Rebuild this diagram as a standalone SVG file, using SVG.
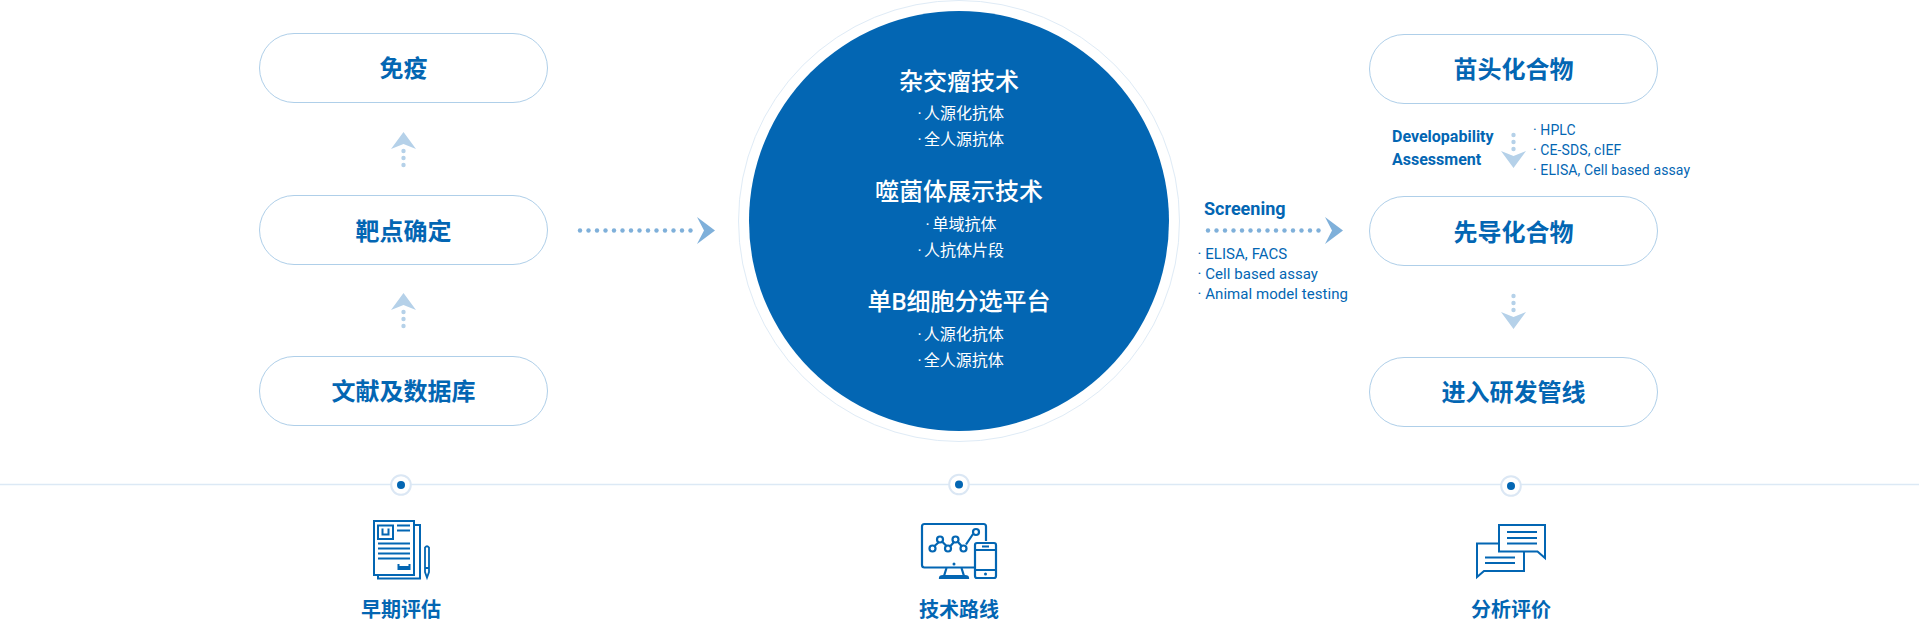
<svg xmlns="http://www.w3.org/2000/svg" width="1919" height="620" viewBox="0 0 1919 620">
<style>
text{font-family:Roboto,"Noto Sans CJK SC",sans-serif;fill:#0366b3}
.pill{fill:#fff;stroke:#afcfe9;stroke-width:1}
.pt{font-size:24px;font-weight:700;text-anchor:middle}
.ct{font-size:24px;font-weight:500;text-anchor:middle;fill:#fff}
.cs{font-size:16px;fill:#fff;font-weight:400}
.b{font-size:18px;font-weight:700}
.b2{font-size:16px;font-weight:700}
.l{font-size:15px;letter-spacing:.05px}
.r{font-size:14px;letter-spacing:.1px}
.lb{font-size:20px;font-weight:700;text-anchor:middle}
.d1{fill:#b5d1e9}
.d2{fill:#7fb0da}
.ic{fill:none;stroke:#0366b3;stroke-width:2}
.ring{fill:#fff;stroke:#dbe7f4;stroke-width:2}
.dot{fill:#0366b3}
</style>
<defs>
<g id="up"><path class="d1" d="M0 0L12.500 17L0 12L-12.500 17Z"/><circle class="d1" cx="0" cy="19" r="2.200"/><circle class="d1" cx="0" cy="26" r="2.200"/><circle class="d1" cx="0" cy="33" r="2.200"/></g>
<g id="down"><path class="d1" d="M0 0L12.500 -17L0 -12L-12.500 -17Z"/><circle class="d1" cx="0" cy="-19" r="2.200"/><circle class="d1" cx="0" cy="-26" r="2.200"/><circle class="d1" cx="0" cy="-33" r="2.200"/></g>
<g id="right"><path class="d2" d="M18 0L0 -13.500L7 0L0 13.500Z"/>
<g class="d2"><circle cx="-6.500" r="2.200"/><circle cx="-15" r="2.200"/><circle cx="-23.500" r="2.200"/><circle cx="-32" r="2.200"/><circle cx="-40.500" r="2.200"/><circle cx="-49" r="2.200"/><circle cx="-57.500" r="2.200"/><circle cx="-66" r="2.200"/><circle cx="-74.500" r="2.200"/><circle cx="-83" r="2.200"/><circle cx="-91.500" r="2.200"/><circle cx="-100" r="2.200"/><circle cx="-108.500" r="2.200"/><circle cx="-117" r="2.200"/></g></g>
</defs>

<g id="connectors">
<path d="M0 484.500H1919" stroke="#dce9f5" stroke-width="1.500" fill="none"/>
<use href="#up" x="403.500" y="132"/>
<use href="#up" x="403.500" y="293"/>
<use href="#right" x="697" y="230.500"/>
<use href="#right" x="1325" y="230.500"/>
<use href="#down" x="1513.500" y="168"/>
<use href="#down" x="1513.500" y="329"/>
</g>

<g id="n-mianyi"><rect class="pill" x="259.500" y="33.500" width="288" height="69" rx="34.500"/><text class="pt" x="403.500" y="77">免疫</text></g>
<g id="n-baidian"><rect class="pill" x="259.500" y="195.500" width="288" height="69" rx="34.500"/><text class="pt" x="403.500" y="240">靶点确定</text></g>
<g id="n-wenxian"><rect class="pill" x="259.500" y="356.500" width="288" height="69" rx="34.500"/><text class="pt" x="403.500" y="400">文献及数据库</text></g>

<g id="n-tech">
<circle cx="959" cy="221" r="220.500" fill="#fff" stroke="#dfebf6" stroke-width="1"/>
<circle cx="959" cy="221" r="210" fill="#0366b3"/>
<text class="ct" x="959" y="90">杂交瘤技术</text>
<text class="cs" y="119"><tspan x="917.500">·</tspan><tspan x="924">人源化抗体</tspan></text>
<text class="cs" y="145"><tspan x="917.500">·</tspan><tspan x="924">全人源抗体</tspan></text>
<text class="ct" x="959" y="200">噬菌体展示技术</text>
<text class="cs" y="230"><tspan x="925.500">·</tspan><tspan x="932.500">单域抗体</tspan></text>
<text class="cs" y="256"><tspan x="917.500">·</tspan><tspan x="924">人抗体片段</tspan></text>
<text class="ct" x="959" y="310">单B细胞分选平台</text>
<text class="cs" y="339.500"><tspan x="917.500">·</tspan><tspan x="923.700">人源化抗体</tspan></text>
<text class="cs" y="366"><tspan x="917.500">·</tspan><tspan x="923.700">全人源抗体</tspan></text>
</g>

<g id="n-miaotou"><rect class="pill" x="1369.500" y="34.500" width="288" height="69" rx="34.500"/><text class="pt" x="1513.500" y="78">苗头化合物</text></g>
<g id="n-xiandao"><rect class="pill" x="1369.500" y="196.500" width="288" height="69" rx="34.500"/><text class="pt" x="1513.500" y="241">先导化合物</text></g>
<g id="n-jinru"><rect class="pill" x="1369.500" y="357.500" width="288" height="69" rx="34.500"/><text class="pt" x="1513.500" y="401">进入研发管线</text></g>

<g id="labels">
<text class="b" x="1204" y="215">Screening</text>
<text class="l" x="1197.500" y="259">· ELISA, FACS</text>
<text class="l" x="1197.500" y="279">· Cell based assay</text>
<text class="l" x="1197.500" y="299">· Animal model testing</text>
<text class="b2" x="1392" y="142">Developability</text>
<text class="b2" x="1392" y="165">Assessment</text>
<text class="r" x="1533" y="134.500">· HPLC</text>
<text class="r" x="1533" y="154.500">· CE-SDS, cIEF</text>
<text class="r" x="1533" y="174.500">· ELISA, Cell based assay</text>
</g>

<g id="n-zaoqi">
<circle class="ring" cx="401" cy="485" r="9.800"/><circle class="dot" cx="401" cy="485" r="4"/>
<g class="ic">
<path d="M414.500 525H420V578.500H378V575"/>
<rect x="374" y="521" width="40" height="54"/>
<rect x="378" y="525.500" width="15" height="13.500"/>
<path d="M382.500 528.500V534.500H388.500V528.500M397 525.500H410M397 530.500H410M378 543.500H410M378 548.500H410M378 553.500H410M378 558.500H410M398.500 564V569H409.500V564M398.500 567H409.500"/>
<path d="M425 547.500Q427 545 429 547.500V572L427 577.500L425 572ZM425 568H429" stroke-width="1.800"/>
</g>
<text class="lb" x="401" y="616.500">早期评估</text>
</g>

<g id="n-luxian">
<circle class="ring" cx="959" cy="484.500" r="9.800"/><circle class="dot" cx="959" cy="484.500" r="4"/>
<g class="ic" style="stroke-width:2.200">
<path d="M974 567.500H924.500Q922 567.500 922 565V526.500Q922 524 924.500 524H983.500Q986 524 986 526.500V541"/>
<path d="M946.500 568L944 576M961.500 568L964 576M940 578H968Q968 576 965 576H943Q940 576 940 578Z"/>
<rect x="975" y="543" width="21" height="35" rx="2"/>
<path d="M975 550H996M975 570H996M982 546.500H989"/>
<path d="M934.500 546L939 542M942.500 542L946.500 546M950.500 546L954 542M958 542L961.500 546M966 544.500L973 534"/>
<circle cx="932.500" cy="548.500" r="3"/><circle cx="940" cy="539.500" r="3"/><circle cx="948" cy="548.500" r="3"/><circle cx="955.500" cy="539.500" r="3"/><circle cx="963.500" cy="548.500" r="3"/><circle cx="976" cy="532" r="3"/>
</g>
<circle class="dot" cx="954" cy="564" r="1.500"/><circle class="dot" cx="985.500" cy="574" r="1.500"/>
<text class="lb" x="959" y="616.500">技术路线</text>
</g>

<g id="n-fenxi">
<circle class="ring" cx="1511" cy="486" r="9.800"/><circle class="dot" cx="1511" cy="486" r="4"/>
<g class="ic">
<path d="M1499 525H1545V558L1537.500 551.500H1499Z"/>
<path d="M1499 543.500H1477V577L1484 571H1524V551.500"/>
<path d="M1507 532H1537M1507 538H1537M1507 543.500H1537M1485 557.500H1515M1485 563H1515"/>
</g>
<text class="lb" x="1511" y="616.500">分析评价</text>
</g>
</svg>
